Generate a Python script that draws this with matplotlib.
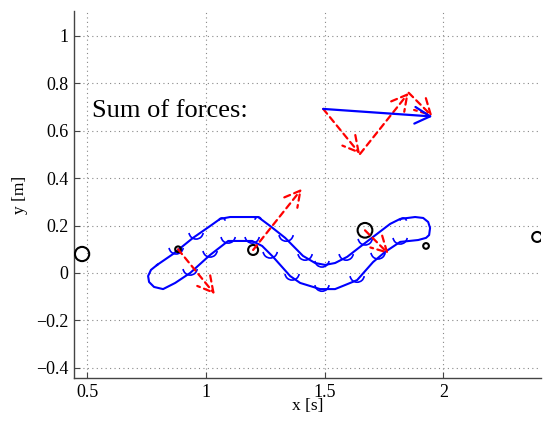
import numpy as np
import matplotlib
matplotlib.use('Agg')
import matplotlib.pyplot as plt
from matplotlib.patches import Circle, Arc, FancyArrowPatch

# ---------------- data ----------------
x_ticks = [0.5, 1.0, 1.5, 2.0]
x_tick_labels = ['0.5', '1', '1.5', '2']
y_ticks = [-0.4, -0.2, 0.0, 0.2, 0.4, 0.6, 0.8, 1.0]
y_tick_labels = ['\u22120.4', '\u22120.2', '0', '0.2', '0.4', '0.6', '0.8', '1']

obstacle_x = [0.479, 0.883, 1.199, 1.670, 1.927, 2.395]
obstacle_y = [0.080, 0.100, 0.097, 0.180, 0.114, 0.152]
obstacle_r = [0.030, 0.012, 0.021, 0.031, 0.012, 0.021]

force_src = [1, 2, 3]            # obstacle index where each force acts
force_dx = [0.155, 0.205, 0.100]
force_dy = [-0.190, 0.258, -0.100]

sum_origin_x = 1.494
sum_origin_y = 0.692
sum_label = 'Sum of forces:'

band_x = [0.795, 0.862, 0.946, 1.018, 1.060, 1.102, 1.220, 1.271, 1.334,
          1.409, 1.460, 1.502, 1.544, 1.595, 1.649, 1.704, 1.776, 1.818, 1.881,
          1.915, 1.936, 1.944, 1.940, 1.927, 1.894, 1.818, 1.755, 1.704, 1.637, 1.586,
          1.544, 1.481, 1.397, 1.355, 1.283, 1.237, 1.195, 1.094, 1.018, 0.934,
          0.871, 0.820, 0.782, 0.761, 0.757, 0.769, 0.795]
band_y = [0.034, 0.080, 0.148, 0.198, 0.228, 0.236, 0.236, 0.198, 0.148,
          0.072, 0.042, 0.034, 0.042, 0.068, 0.110, 0.152, 0.207, 0.228, 0.236,
          0.232, 0.215, 0.190, 0.160, 0.148, 0.139, 0.131, 0.089, 0.046, -0.030, -0.051,
          -0.068, -0.068, -0.042, -0.013, 0.068, 0.114, 0.135, 0.135, 0.076, 0.000,
          -0.042, -0.068, -0.059, -0.038, -0.013, 0.013, 0.034]

# arc marks along the band; mark_open: +1 opens upward, -1 opens downward
mark_x = [0.875, 0.959, 1.068, 1.220, 1.338, 1.418, 1.489, 1.591, 1.671, 1.831,
          0.934, 1.018, 1.094, 1.195, 1.271, 1.363, 1.489, 1.637, 1.725, 1.818]
mark_y = [0.089, 0.152, 0.228, 0.232, 0.143, 0.063, 0.034, 0.063, 0.127, 0.228,
          0.000, 0.076, 0.135, 0.135, 0.072, -0.021, -0.068, -0.030, 0.068, 0.131]
mark_open = [1, 1, -1, -1, 1, 1, 1, 1, 1, -1,
             1, 1, 1, 1, 1, 1, 1, 1, 1, 1]

# ---------------- figure ----------------
serif = ['Liberation Serif', 'DejaVu Serif']
fig = plt.figure(figsize=(5.47, 4.21), dpi=100)
ax = fig.add_axes([74 / 547, 1 - 378 / 421, 467 / 547, 367 / 421])
ax.set_xlim(0.445, 2.411)
ax.set_ylim(-0.443, 1.105)

ax.set_xticks(x_ticks)
ax.set_xticklabels(x_tick_labels, fontfamily=serif, fontsize=13)
ax.set_yticks(y_ticks)
ax.set_yticklabels(y_tick_labels, fontfamily=serif, fontsize=13)
ax.tick_params(direction='in', length=4, color='#444444', pad=4)
for s in ['top', 'right']:
    ax.spines[s].set_visible(False)
for s in ['left', 'bottom']:
    ax.spines[s].set_color('#444444')
    ax.spines[s].set_linewidth(1.0)
ax.grid(True, color='#888888', linestyle=(0, (1, 3)), linewidth=0.8)
ax.set_axisbelow(True)
ax.set_xlabel('x [s]', fontfamily=serif, fontsize=12.5, labelpad=-2)
ax.set_ylabel('y [m]', fontfamily=serif, fontsize=12.5, labelpad=6)

# band outline
ax.plot(band_x, band_y, color='#0000ff', lw=1.5, zorder=3,
        solid_joinstyle='round')

# arc marks
r = 0.030
for mx, my, mo in zip(mark_x, mark_y, mark_open):
    rr = r * (0.45 if mo < 0 else 1.0)
    c = (mx, my + mo * rr * 0.7)
    t1, t2 = (180, 360) if mo > 0 else (0, 180)
    ax.add_patch(Arc(c, 2 * rr, 2 * rr, theta1=t1 + 8, theta2=t2 - 8,
                     color='#0000ff', lw=1.2, zorder=3))

# obstacles
for ox, oy, orad in zip(obstacle_x, obstacle_y, obstacle_r):
    ax.add_patch(Circle((ox, oy), orad, fill=False, ec='black', lw=1.5, zorder=4))

red_ls = (0, (2.8, 2.0))
astyle = '->,head_length=0.55,head_width=0.3'

def arrow(x0, y0, x1, y1, color, ls, lw):
    ax.add_patch(FancyArrowPatch((x0, y0), (x1, y1), arrowstyle=astyle,
                                 mutation_scale=20, color=color, lw=lw,
                                 linestyle=ls, shrinkA=0, shrinkB=0, zorder=5))

# forces at obstacles
for k, i in enumerate(force_src):
    x0, y0 = obstacle_x[i], obstacle_y[i]
    arrow(x0, y0, x0 + force_dx[k], y0 + force_dy[k], '#ff0000', red_ls, 1.6)

# sum of forces diagram
cx = sum_origin_x + np.concatenate([[0], np.cumsum(force_dx)])
cy = sum_origin_y + np.concatenate([[0], np.cumsum(force_dy)])
for k in range(len(force_dx)):
    arrow(cx[k], cy[k], cx[k + 1], cy[k + 1], '#ff0000', red_ls, 1.6)
arrow(cx[0], cy[0], cx[-1], cy[-1], '#0000ff', '-', 1.6)

ax.text(0.52, 0.658, sum_label, fontfamily=serif, fontsize=19,
        va='baseline', ha='left', zorder=6)

fig.savefig('out.png', dpi=100)
